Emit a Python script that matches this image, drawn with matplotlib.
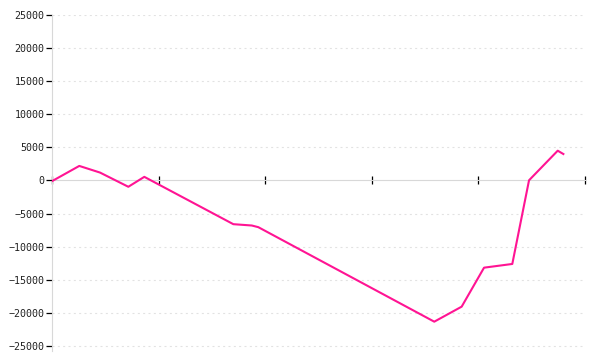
import matplotlib
matplotlib.use("Agg")
import matplotlib.pyplot as plt

# valores
x_vals = [0.0, 0.256, 0.450, 0.716, 0.866, 1.701, 1.874, 1.935,
          3.586, 3.843, 4.053, 4.318, 4.475, 4.744, 4.797]
y_vals = [-100, 2200, 1200, -950, 550, -6600, -6800, -7050,
          -21330, -19060, -13170, -12610, 30, 4500, 4000]
x_ticks = [0, 1, 2, 3, 4, 5]
y_ticks = [-25000, -20000, -15000, -10000, -5000, 0,
           5000, 10000, 15000, 20000, 25000]

fig = plt.figure(figsize=(6, 3.6), dpi=100)
ax = fig.add_axes([52 / 600, 0.0261, 533 / 600, 0.9322])

# lineas de rejilla punteadas
for v in y_ticks:
    if v != 0:
        ax.axhline(v, color='#e2e2e2', linewidth=0.8, dashes=(1.8, 3.0), zorder=1)

ax.plot(x_vals, y_vals, color='#ff1493', linewidth=1.5, zorder=3)

ax.set_xlim(0, 5)
ax.set_ylim(-25700, 25000)
ax.set_xticks(x_ticks)
ax.set_xticklabels([])
ax.set_yticks(y_ticks)
ax.set_yticklabels([str(v).replace('-', '\u2212') for v in y_ticks],
                   family='DejaVu Sans Mono', fontsize=7.2, color='#222222')

for s in ['top', 'right']:
    ax.spines[s].set_visible(False)
ax.spines['bottom'].set_position(('data', 0))
ax.spines['bottom'].set_color('#d8d8d8')
ax.spines['left'].set_color('#d8d8d8')
ax.spines['bottom'].set_zorder(2)

ax.tick_params(axis='x', direction='inout', length=6, width=0.9, color='black')
ax.tick_params(axis='y', direction='out', length=4.5, width=0.9, color='black', pad=0.8)

fig.savefig('out.png', dpi=100)
